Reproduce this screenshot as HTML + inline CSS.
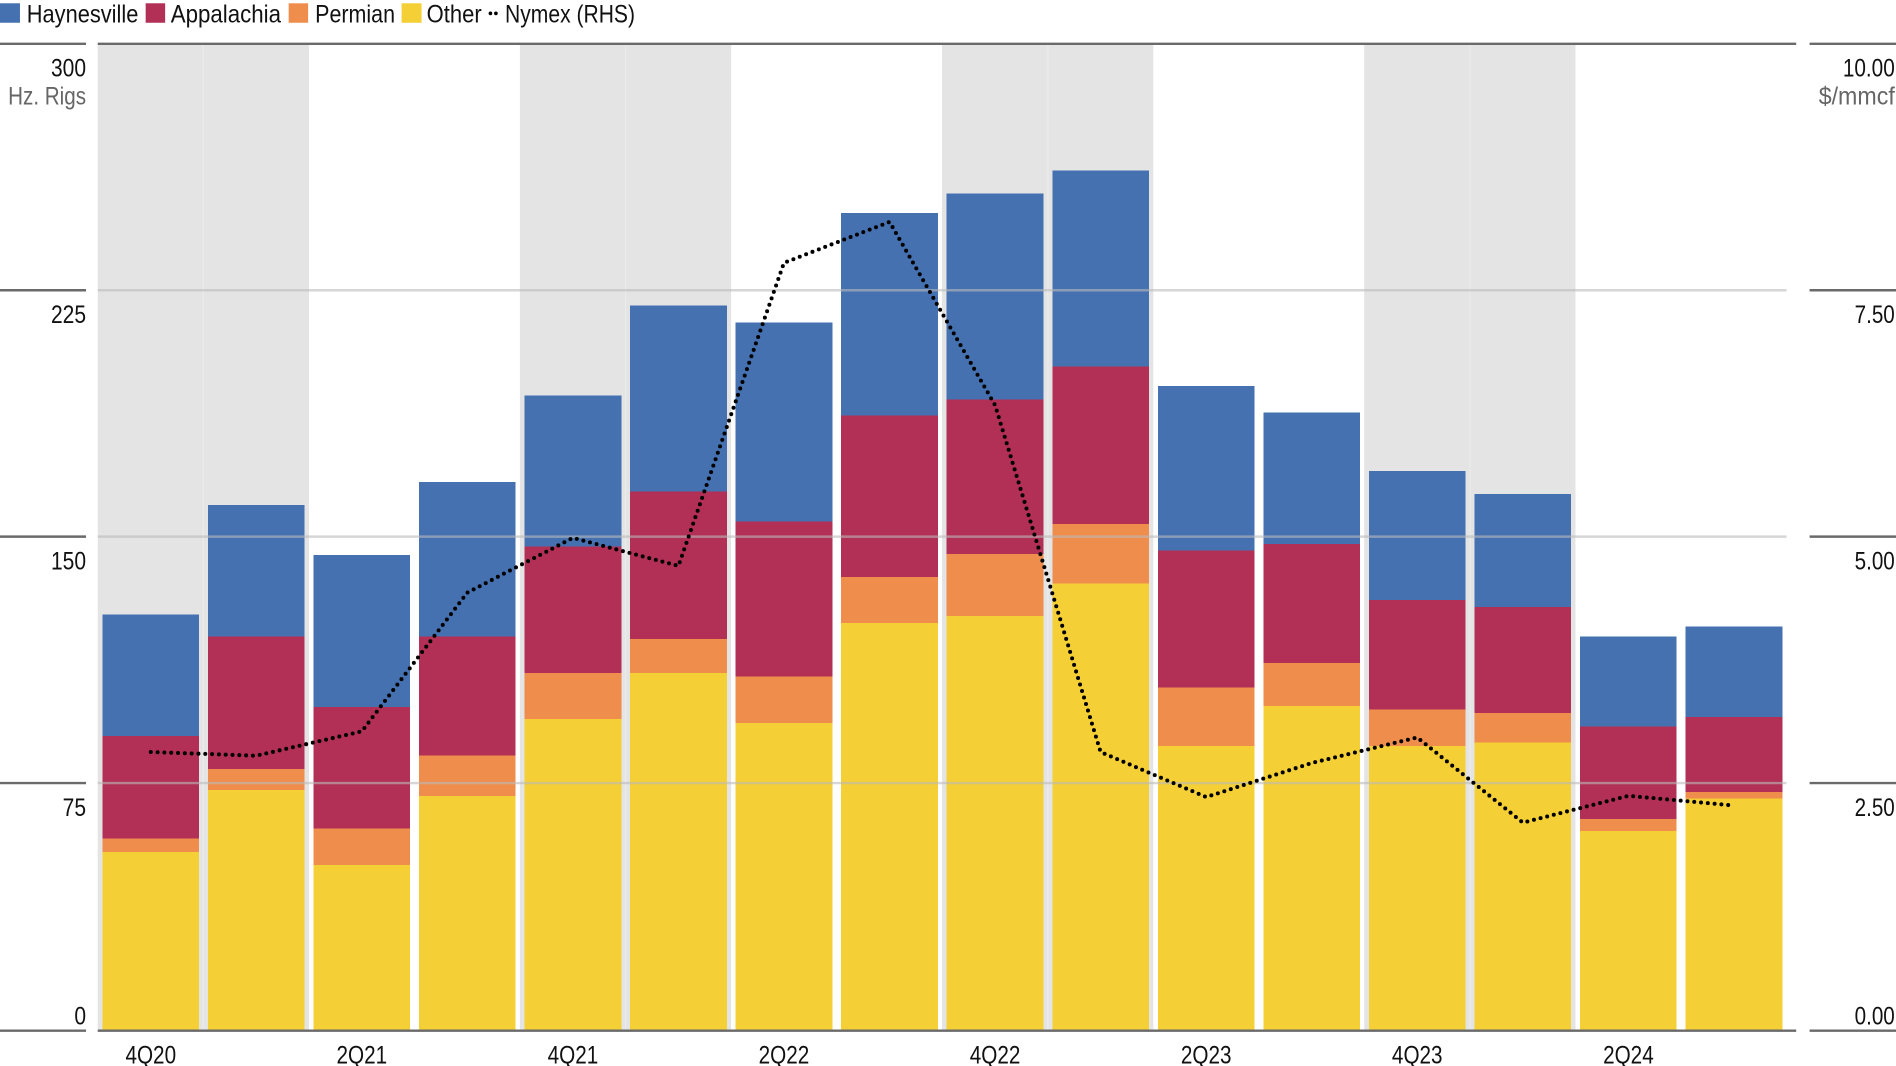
<!DOCTYPE html>
<html><head><meta charset="utf-8"><style>
html,body{margin:0;padding:0;background:#fff;}
svg{display:block;}
text{font-family:"Liberation Sans",sans-serif;}
</style></head><body>
<svg width="1896" height="1066" viewBox="0 0 1558 876" preserveAspectRatio="none" xmlns="http://www.w3.org/2000/svg">
<g fill="#e4e4e4">
<rect x="80.3" y="36" width="173.6" height="811"/>
<rect x="427.2" y="36" width="173.6" height="811"/>
<rect x="774.1" y="36" width="173.6" height="811"/>
<rect x="1121" y="36" width="173.6" height="811"/>
</g>
<g stroke="#ececec" stroke-width="1">
<line x1="167" y1="36" x2="167" y2="847"/><line x1="514" y1="36" x2="514" y2="847"/><line x1="861" y1="36" x2="861" y2="847"/><line x1="1208" y1="36" x2="1208" y2="847"/>
</g>
<g shape-rendering="crispEdges">
<g fill="#f4cf35">
<rect x="84.1" y="700" width="79.5" height="147"/>
<rect x="170.8" y="649" width="79.5" height="198"/>
<rect x="257.6" y="711" width="79.5" height="136"/>
<rect x="344.3" y="654" width="79.5" height="193"/>
<rect x="431.0" y="591" width="79.5" height="256"/>
<rect x="517.8" y="553" width="79.5" height="294"/>
<rect x="604.5" y="594" width="79.5" height="253"/>
<rect x="691.2" y="512" width="79.5" height="335"/>
<rect x="777.9" y="506.4" width="79.5" height="340.6"/>
<rect x="864.7" y="479.3" width="79.5" height="367.7"/>
<rect x="951.4" y="613" width="79.5" height="234"/>
<rect x="1038.1" y="580" width="79.5" height="267"/>
<rect x="1124.9" y="613" width="79.5" height="234"/>
<rect x="1211.6" y="610" width="79.5" height="237"/>
<rect x="1298.3" y="683" width="79.5" height="164"/>
<rect x="1385.1" y="656" width="79.5" height="191"/>
</g>
<g fill="#ef8d4d">
<rect x="84.1" y="689" width="79.5" height="11"/>
<rect x="170.8" y="632" width="79.5" height="17"/>
<rect x="257.6" y="681" width="79.5" height="30"/>
<rect x="344.3" y="621" width="79.5" height="33"/>
<rect x="431.0" y="553" width="79.5" height="38"/>
<rect x="517.8" y="525" width="79.5" height="28"/>
<rect x="604.5" y="556" width="79.5" height="38"/>
<rect x="691.2" y="474.1" width="79.5" height="37.9"/>
<rect x="777.9" y="455.2" width="79.5" height="51.2"/>
<rect x="864.7" y="430.8" width="79.5" height="48.5"/>
<rect x="951.4" y="565" width="79.5" height="48"/>
<rect x="1038.1" y="545" width="79.5" height="35"/>
<rect x="1124.9" y="583" width="79.5" height="30"/>
<rect x="1211.6" y="586" width="79.5" height="24"/>
<rect x="1298.3" y="673" width="79.5" height="10"/>
<rect x="1385.1" y="651" width="79.5" height="5"/>
</g>
<g fill="#b22f56">
<rect x="84.1" y="605" width="79.5" height="84"/>
<rect x="170.8" y="523" width="79.5" height="109"/>
<rect x="257.6" y="581" width="79.5" height="100"/>
<rect x="344.3" y="523" width="79.5" height="98"/>
<rect x="431.0" y="449" width="79.5" height="104"/>
<rect x="517.8" y="403.7" width="79.5" height="121.3"/>
<rect x="604.5" y="428.4" width="79.5" height="127.6"/>
<rect x="691.2" y="341.6" width="79.5" height="132.5"/>
<rect x="777.9" y="328.1" width="79.5" height="127.1"/>
<rect x="864.7" y="301.3" width="79.5" height="129.5"/>
<rect x="951.4" y="452.5" width="79.5" height="112.5"/>
<rect x="1038.1" y="447" width="79.5" height="98"/>
<rect x="1124.9" y="493" width="79.5" height="90"/>
<rect x="1211.6" y="499" width="79.5" height="87"/>
<rect x="1298.3" y="597" width="79.5" height="76"/>
<rect x="1385.1" y="589" width="79.5" height="62"/>
</g>
<g fill="#4571b0">
<rect x="84.1" y="505" width="79.5" height="100"/>
<rect x="170.8" y="415" width="79.5" height="108"/>
<rect x="257.6" y="456" width="79.5" height="125"/>
<rect x="344.3" y="396" width="79.5" height="127"/>
<rect x="431.0" y="325" width="79.5" height="124"/>
<rect x="517.8" y="251" width="79.5" height="152.7"/>
<rect x="604.5" y="265" width="79.5" height="163.4"/>
<rect x="691.2" y="175" width="79.5" height="166.6"/>
<rect x="777.9" y="159" width="79.5" height="169.1"/>
<rect x="864.7" y="140" width="79.5" height="161.3"/>
<rect x="951.4" y="317" width="79.5" height="135.5"/>
<rect x="1038.1" y="339" width="79.5" height="108"/>
<rect x="1124.9" y="387" width="79.5" height="106"/>
<rect x="1211.6" y="406" width="79.5" height="93"/>
<rect x="1298.3" y="523" width="79.5" height="74"/>
<rect x="1385.1" y="515" width="79.5" height="74"/>
</g>
</g>
<g stroke="#bbb" stroke-width="2" stroke-opacity="0.6">
<line x1="80.3" y1="238.5" x2="1468" y2="238.5"/>
<line x1="80.3" y1="441" x2="1468" y2="441"/>
<line x1="80.3" y1="643.5" x2="1468" y2="643.5"/>
</g>
<g stroke="#6a6a6a" stroke-width="2">
<line x1="80.3" y1="36" x2="1476" y2="36"/>
<line x1="80.3" y1="847" x2="1476" y2="847"/>
<line x1="0" y1="36" x2="70.7" y2="36"/><line x1="0" y1="238.5" x2="70.7" y2="238.5"/><line x1="0" y1="441" x2="70.7" y2="441"/><line x1="0" y1="643.5" x2="70.7" y2="643.5"/><line x1="0" y1="847" x2="70.7" y2="847"/>
<line x1="1487" y1="36" x2="1558" y2="36"/><line x1="1487" y1="238.5" x2="1558" y2="238.5"/><line x1="1487" y1="441" x2="1558" y2="441"/><line x1="1487" y1="643.5" x2="1558" y2="643.5"/><line x1="1487" y1="847" x2="1558" y2="847"/>
</g>
<polyline fill="none" stroke="#000" stroke-width="3.3" stroke-linecap="round" stroke-dasharray="0 5.6" points="123.9,618 210.6,621 297.3,601 384,487 470.8,442 557.5,465 644.2,216 731,182.4 817.7,333 904.4,618 991.2,655 1077.9,627 1164.6,606 1251.4,676 1338.1,654 1424.8,662"/>
<g font-size="20.5" fill="#111" text-anchor="end">
<text x="70.7" y="63" textLength="28.8" lengthAdjust="spacingAndGlyphs">300</text>
<text x="70.7" y="86" textLength="64" lengthAdjust="spacingAndGlyphs" fill="#666">Hz. Rigs</text>
<text x="70.7" y="265.5" textLength="28.8" lengthAdjust="spacingAndGlyphs">225</text>
<text x="70.7" y="468" textLength="28.8" lengthAdjust="spacingAndGlyphs">150</text>
<text x="70.7" y="670.5" textLength="19.2" lengthAdjust="spacingAndGlyphs">75</text>
<text x="70.7" y="842" textLength="9.6" lengthAdjust="spacingAndGlyphs">0</text>
<text x="1557" y="63" textLength="42.7" lengthAdjust="spacingAndGlyphs">10.00</text>
<text x="1557" y="86" textLength="62.5" lengthAdjust="spacingAndGlyphs" fill="#666">$/mmcf</text>
<text x="1557" y="265.5" textLength="33" lengthAdjust="spacingAndGlyphs">7.50</text>
<text x="1557" y="468" textLength="33" lengthAdjust="spacingAndGlyphs">5.00</text>
<text x="1557" y="670.5" textLength="33" lengthAdjust="spacingAndGlyphs">2.50</text>
<text x="1557" y="842" textLength="33" lengthAdjust="spacingAndGlyphs">0.00</text>
</g>
<g font-size="20.5" fill="#111" text-anchor="middle">
<text x="123.9" y="874" textLength="41.6" lengthAdjust="spacingAndGlyphs">4Q20</text>
<text x="297.3" y="874" textLength="41.6" lengthAdjust="spacingAndGlyphs">2Q21</text>
<text x="470.8" y="874" textLength="41.6" lengthAdjust="spacingAndGlyphs">4Q21</text>
<text x="644.2" y="874" textLength="41.6" lengthAdjust="spacingAndGlyphs">2Q22</text>
<text x="817.7" y="874" textLength="41.6" lengthAdjust="spacingAndGlyphs">4Q22</text>
<text x="991.2" y="874" textLength="41.6" lengthAdjust="spacingAndGlyphs">2Q23</text>
<text x="1164.6" y="874" textLength="41.6" lengthAdjust="spacingAndGlyphs">4Q23</text>
<text x="1338.1" y="874" textLength="41.6" lengthAdjust="spacingAndGlyphs">2Q24</text>
</g>
<rect x="0" y="2.7" width="16.4" height="16" fill="#4571b0"/>
<rect x="119.7" y="2.7" width="16" height="16" fill="#b22f56"/>
<rect x="237.2" y="2.7" width="16" height="16" fill="#ef8d4d"/>
<rect x="330" y="2.7" width="16.4" height="16" fill="#f4cf35"/>
<circle cx="403" cy="11" r="1.5" fill="#000"/><circle cx="407.5" cy="11" r="1.5" fill="#000"/>
<g font-size="20.5" fill="#111">
<text x="22" y="18.6" textLength="91.7" lengthAdjust="spacingAndGlyphs">Haynesville</text>
<text x="140.3" y="18.6" textLength="90.6" lengthAdjust="spacingAndGlyphs">Appalachia</text>
<text x="259" y="18.6" textLength="65.6" lengthAdjust="spacingAndGlyphs">Permian</text>
<text x="350.6" y="18.6" textLength="45.2" lengthAdjust="spacingAndGlyphs">Other</text>
<text x="415" y="18.6" textLength="106.8" lengthAdjust="spacingAndGlyphs">Nymex (RHS)</text>
</g>
</svg>
</body></html>
